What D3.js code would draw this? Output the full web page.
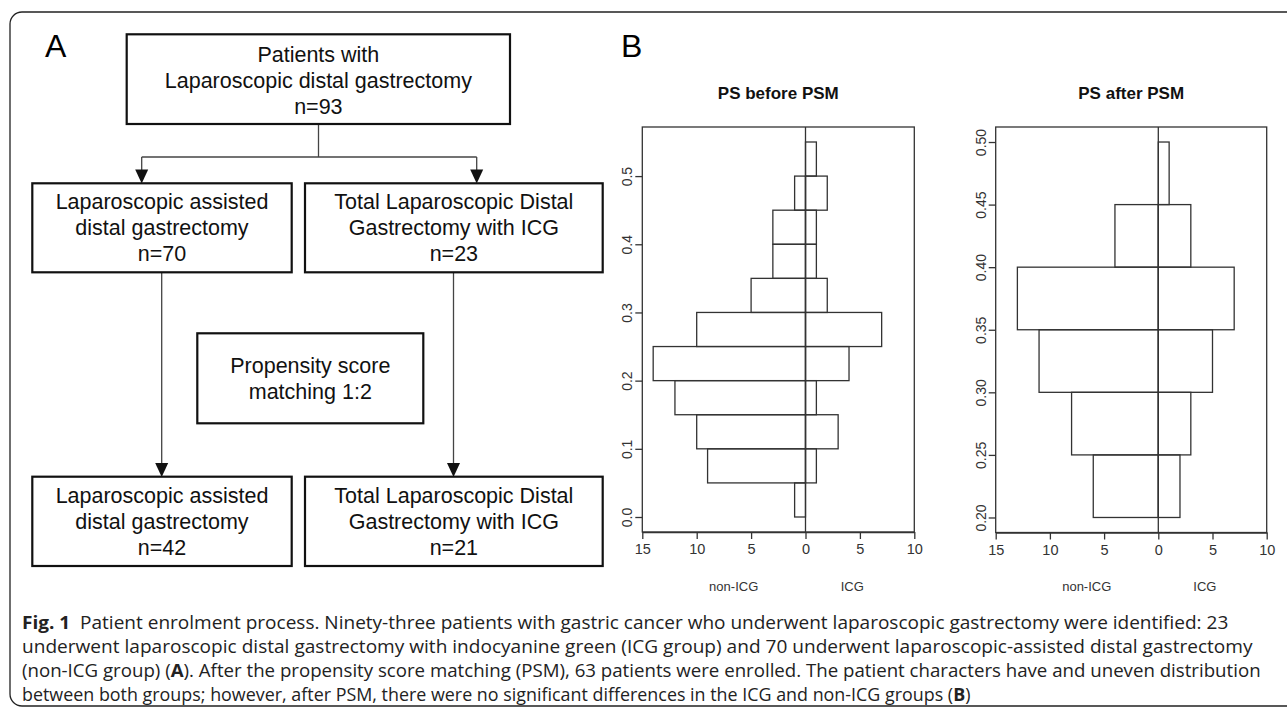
<!DOCTYPE html>
<html>
<head>
<meta charset="utf-8">
<script src="https://cdn.jsdelivr.net/npm/d3@7"></script>
<style>
  html, body { margin: 0; padding: 0; background: #fff; }
  svg { display: block; }
</style>
</head>
<body>
<svg id="fig" width="1287" height="710"></svg>
<script>
// Histogram data (PS bins of width 0.05)
const binWidth = 0.05
const beforeBinStarts = [0.00, 0.05, 0.10, 0.15, 0.20, 0.25, 0.30, 0.35, 0.40, 0.45, 0.50]
const beforeNonICG = [1, 9, 10, 12, 14, 10, 5, 3, 3, 1, 0]
const beforeICG = [0, 1, 3, 1, 4, 7, 2, 1, 1, 2, 1]
const afterBinStarts = [0.20, 0.25, 0.30, 0.35, 0.40, 0.45]
const afterNonICG = [6, 8, 11, 13, 4, 0]
const afterICG = [2, 3, 5, 7, 3, 1]

const xTicks = [-15, -10, -5, 0, 5, 10]
const beforeYTicks = [0.0, 0.1, 0.2, 0.3, 0.4, 0.5]
const afterYTicks = [0.20, 0.25, 0.30, 0.35, 0.40, 0.45, 0.50]
const groupLabels = ["non-ICG", "ICG"]

// Flowchart text
const topBoxLines = ["Patients with", "Laparoscopic distal gastrectomy", "n=93"]
const ladgLines = ["Laparoscopic assisted", "distal gastrectomy"]
const tldgLines = ["Total Laparoscopic Distal", "Gastrectomy with ICG"]
const countsBefore = ["n=70", "n=23"]
const countsAfter = ["n=42", "n=21"]
const psmLines = ["Propensity score", "matching 1:2"]

const captionLines = [
  [["Fig. 1", true], ["  Patient enrolment process. Ninety-three patients with gastric cancer who underwent laparoscopic gastrectomy were identified: 23", false]],
  [["underwent laparoscopic distal gastrectomy with indocyanine green (ICG group) and 70 underwent laparoscopic-assisted distal gastrectomy", false]],
  [["(non-ICG group) (", false], ["A", true], ["). After the propensity score matching (PSM), 63 patients were enrolled. The patient characters have and uneven distribution", false]],
  [["between both groups; however, after PSM, there were no significant differences in the ICG and non-ICG groups (", false], ["B", true], [")", false]]
]

const svg = d3.select("#fig")
const sans = "'Liberation Sans', Arial, Helvetica, sans-serif"

// outer frame
svg.append("rect")
  .attr("x", 10).attr("y", 12)
  .attr("width", 1300).attr("height", 694)
  .attr("rx", 12)
  .attr("fill", "none")
  .attr("stroke", "#222")
  .attr("stroke-width", 1.3)

// panel letters
svg.append("text").attr("x", 45).attr("y", 57).text("A")
  .attr("font-family", sans).attr("font-size", 32)
svg.append("text").attr("x", 621).attr("y", 57).text("B")
  .attr("font-family", sans).attr("font-size", 32)

// ---------- Panel A : flowchart ----------
function drawBox(x0, y0, x1, y1, lines, firstBaseline){
  svg.append("rect")
    .attr("x", x0).attr("y", y0)
    .attr("width", x1 - x0).attr("height", y1 - y0)
    .attr("fill", "white")
    .attr("stroke", "#111")
    .attr("stroke-width", 2.2)
  const cx = (x0 + x1) / 2
  lines.forEach(function(t, i){
    svg.append("text")
      .attr("x", cx)
      .attr("y", firstBaseline + i * 26)
      .attr("text-anchor", "middle")
      .attr("font-family", sans)
      .attr("font-size", 21.5)
      .attr("fill", "#111")
      .text(t)
  })
}

function line(x0, y0, x1, y1){
  svg.append("line")
    .attr("x1", x0).attr("y1", y0).attr("x2", x1).attr("y2", y1)
    .attr("stroke", "#444").attr("stroke-width", 1.3)
}

function arrowHead(x, tipY){
  svg.append("path")
    .attr("d", `M${x - 6.5},${tipY - 14} L${x + 6.5},${tipY - 14} L${x},${tipY} Z`)
    .attr("fill", "#111")
}

// connectors first so boxes sit on top
line(318.5, 124, 318.5, 157)
line(141.7, 157, 476.7, 157)
line(141.7, 157, 141.7, 172)
line(476.7, 157, 476.7, 172)
arrowHead(141.7, 183.5)
arrowHead(476.7, 183.5)
line(161.7, 272, 161.7, 465)
line(453.5, 272, 453.5, 465)
arrowHead(161.7, 477)
arrowHead(453.5, 477)

drawBox(126.7, 34.3, 510, 124, topBoxLines, 61.5)
drawBox(32.3, 183.3, 291.7, 272.3, ladgLines.concat([countsBefore[0]]), 209)
drawBox(305, 183.3, 602.7, 272.3, tldgLines.concat([countsBefore[1]]), 209)
drawBox(197.3, 333.3, 423.3, 423.3, psmLines, 373)
drawBox(32.3, 476.7, 291.7, 566, ladgLines.concat([countsAfter[0]]), 503)
drawBox(305, 476.7, 602.7, 566, tldgLines.concat([countsAfter[1]]), 503)

// ---------- Panel B : back-to-back histograms ----------
function drawHist(opts){
  const x = d3.scaleLinear().domain([-15, 10]).range([opts.left, opts.right])
  const y = d3.scaleLinear().domain(opts.yDomain).range([opts.bottom, opts.top])
  const g = svg.append("g")
  const stroke = "#333"

  // title
  g.append("text")
    .attr("x", (opts.left + opts.right) / 2)
    .attr("y", 99)
    .attr("text-anchor", "middle")
    .attr("font-family", sans)
    .attr("font-weight", "bold")
    .attr("font-size", 17)
    .attr("fill", "#111")
    .text(opts.title)

  // bars
  const bins = opts.starts.map((s, i) => ({s: s, left: opts.left_counts[i], right: opts.right_counts[i]}))
  g.selectAll("rect.l").data(bins.filter(d => d.left > 0)).join("rect")
    .attr("x", d => x(-d.left))
    .attr("width", d => x(0) - x(-d.left))
    .attr("y", d => y(d.s + binWidth))
    .attr("height", d => y(d.s) - y(d.s + binWidth))
    .attr("fill", "none").attr("stroke", stroke).attr("stroke-width", 1.3)
  g.selectAll("rect.r").data(bins.filter(d => d.right > 0)).join("rect")
    .attr("x", x(0))
    .attr("width", d => x(d.right) - x(0))
    .attr("y", d => y(d.s + binWidth))
    .attr("height", d => y(d.s) - y(d.s + binWidth))
    .attr("fill", "none").attr("stroke", stroke).attr("stroke-width", 1.3)

  // centre line
  g.append("line")
    .attr("x1", x(0)).attr("x2", x(0))
    .attr("y1", opts.top).attr("y2", opts.bottom)
    .attr("stroke", stroke).attr("stroke-width", 1.3)

  // box
  g.append("rect")
    .attr("x", opts.left).attr("y", opts.top)
    .attr("width", opts.right - opts.left).attr("height", opts.bottom - opts.top)
    .attr("fill", "none").attr("stroke", stroke).attr("stroke-width", 1.3)

  // x axis
  const xa = g.append("g")
    .attr("transform", `translate(0,${opts.bottom})`)
    .call(d3.axisBottom(x).tickValues(xTicks).tickFormat(d => Math.abs(d)).tickSize(7).tickSizeOuter(0).tickPadding(5))
  xa.select(".domain").attr("stroke", stroke).attr("stroke-width", 1.3)
  xa.selectAll(".tick line").attr("stroke", stroke).attr("stroke-width", 1.3)
  xa.selectAll(".tick text").attr("font-family", sans).attr("font-size", 14.5).attr("fill", "#333")

  // y axis, labels parallel to axis
  const ya = g.append("g")
    .attr("transform", `translate(${opts.left},0)`)
    .call(d3.axisLeft(y).tickValues(opts.yTicks).tickFormat(d3.format(opts.yFormat)).tickSize(7).tickSizeOuter(0))
  ya.select(".domain").remove()
  ya.selectAll(".tick line").attr("stroke", stroke).attr("stroke-width", 1.3)
  ya.selectAll(".tick text")
    .attr("x", null).attr("dy", null)
    .attr("text-anchor", "middle")
    .attr("dominant-baseline", "central")
    .attr("transform", "translate(-15,0) rotate(-90)")
    .attr("font-family", sans).attr("font-size", 14).attr("fill", "#333")

  // group labels under the axis
  g.selectAll("text.grp").data(groupLabels).join("text")
    .attr("x", (d, i) => x(i === 0 ? -6.6 : 4.3))
    .attr("y", 591)
    .attr("text-anchor", "middle")
    .attr("font-family", sans)
    .attr("font-size", 13)
    .attr("fill", "#333")
    .text(d => d)
}

drawHist({
  title: "PS before PSM",
  left: 642.3, right: 914.3, top: 127, bottom: 532,
  yDomain: [-0.022, 0.572], yTicks: beforeYTicks, yFormat: ".1f",
  starts: beforeBinStarts, left_counts: beforeNonICG, right_counts: beforeICG
})
drawHist({
  title: "PS after PSM",
  left: 995.7, right: 1266.7, top: 127, bottom: 532.5,
  yDomain: [0.188, 0.512], yTicks: afterYTicks, yFormat: ".2f",
  starts: afterBinStarts, left_counts: afterNonICG, right_counts: afterICG
})

// ---------- caption ----------
// the journal uses a condensed face; squeeze a normal sans horizontally to the same line widths
const capFont = "'Open Sans', 'DejaVu Sans', sans-serif"
const capWidths = [1207, 1231, 1240, 949]
captionLines.forEach(function(parts, i){
  const yb = 629 + i * 24
  const t = svg.append("text")
    .attr("x", 0)
    .attr("y", 0)
    .attr("font-family", capFont)
    .attr("font-size", 17.5)
    .attr("fill", "#222")
    .style("white-space", "pre")
  parts.forEach(function(p){
    t.append("tspan")
      .attr("font-weight", p[1] ? "bold" : null)
      .text(p[0])
  })
  const w = t.node().getComputedTextLength()
  t.attr("transform", `translate(22,${yb}) scale(${capWidths[i] / w},1)`)
})
</script>
</body>
</html>
